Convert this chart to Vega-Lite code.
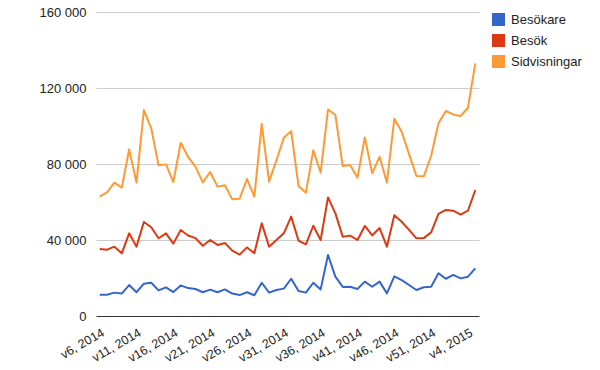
{
  "$schema": "https://vega.github.io/schema/vega-lite/v6.json",
  "width": 383,
  "height": 304,
  "autosize": {"type": "none"},
  "padding": {"left": 96, "top": 12, "right": 121, "bottom": 54},
  "background": "white",
  "config": {
    "view": {"stroke": null},
    "font": "Liberation Sans"
  },
  "data": {
    "values": [
      {"week": "v6, 2014", "serie": "Besökare", "value": 11200},
      {"week": "v7, 2014", "serie": "Besökare", "value": 11200},
      {"week": "v8, 2014", "serie": "Besökare", "value": 12300},
      {"week": "v9, 2014", "serie": "Besökare", "value": 11800},
      {"week": "v10, 2014", "serie": "Besökare", "value": 16300},
      {"week": "v11, 2014", "serie": "Besökare", "value": 12500},
      {"week": "v12, 2014", "serie": "Besökare", "value": 17000},
      {"week": "v13, 2014", "serie": "Besökare", "value": 17500},
      {"week": "v14, 2014", "serie": "Besökare", "value": 13500},
      {"week": "v15, 2014", "serie": "Besökare", "value": 15100},
      {"week": "v16, 2014", "serie": "Besökare", "value": 12600},
      {"week": "v17, 2014", "serie": "Besökare", "value": 16100},
      {"week": "v18, 2014", "serie": "Besökare", "value": 14700},
      {"week": "v19, 2014", "serie": "Besökare", "value": 14200},
      {"week": "v20, 2014", "serie": "Besökare", "value": 12500},
      {"week": "v21, 2014", "serie": "Besökare", "value": 13900},
      {"week": "v22, 2014", "serie": "Besökare", "value": 12500},
      {"week": "v23, 2014", "serie": "Besökare", "value": 14000},
      {"week": "v24, 2014", "serie": "Besökare", "value": 11800},
      {"week": "v25, 2014", "serie": "Besökare", "value": 11000},
      {"week": "v26, 2014", "serie": "Besökare", "value": 12500},
      {"week": "v27, 2014", "serie": "Besökare", "value": 10900},
      {"week": "v28, 2014", "serie": "Besökare", "value": 17500},
      {"week": "v29, 2014", "serie": "Besökare", "value": 12300},
      {"week": "v30, 2014", "serie": "Besökare", "value": 13700},
      {"week": "v31, 2014", "serie": "Besökare", "value": 14400},
      {"week": "v32, 2014", "serie": "Besökare", "value": 19600},
      {"week": "v33, 2014", "serie": "Besökare", "value": 13200},
      {"week": "v34, 2014", "serie": "Besökare", "value": 12300},
      {"week": "v35, 2014", "serie": "Besökare", "value": 17500},
      {"week": "v36, 2014", "serie": "Besökare", "value": 14000},
      {"week": "v37, 2014", "serie": "Besökare", "value": 32100},
      {"week": "v38, 2014", "serie": "Besökare", "value": 20700},
      {"week": "v39, 2014", "serie": "Besökare", "value": 15300},
      {"week": "v40, 2014", "serie": "Besökare", "value": 15400},
      {"week": "v41, 2014", "serie": "Besökare", "value": 14200},
      {"week": "v42, 2014", "serie": "Besökare", "value": 18100},
      {"week": "v43, 2014", "serie": "Besökare", "value": 15400},
      {"week": "v44, 2014", "serie": "Besökare", "value": 18100},
      {"week": "v45, 2014", "serie": "Besökare", "value": 11900},
      {"week": "v46, 2014", "serie": "Besökare", "value": 20900},
      {"week": "v47, 2014", "serie": "Besökare", "value": 18900},
      {"week": "v48, 2014", "serie": "Besökare", "value": 16300},
      {"week": "v49, 2014", "serie": "Besökare", "value": 13700},
      {"week": "v50, 2014", "serie": "Besökare", "value": 15100},
      {"week": "v51, 2014", "serie": "Besökare", "value": 15400},
      {"week": "v52, 2014", "serie": "Besökare", "value": 22500},
      {"week": "v1, 2015", "serie": "Besökare", "value": 19600},
      {"week": "v2, 2015", "serie": "Besökare", "value": 21600},
      {"week": "v3, 2015", "serie": "Besökare", "value": 19800},
      {"week": "v4, 2015", "serie": "Besökare", "value": 20700},
      {"week": "v5, 2015", "serie": "Besökare", "value": 25100},
      {"week": "v6, 2014", "serie": "Besök", "value": 35300},
      {"week": "v7, 2014", "serie": "Besök", "value": 34900},
      {"week": "v8, 2014", "serie": "Besök", "value": 36500},
      {"week": "v9, 2014", "serie": "Besök", "value": 33000},
      {"week": "v10, 2014", "serie": "Besök", "value": 43500},
      {"week": "v11, 2014", "serie": "Besök", "value": 36500},
      {"week": "v12, 2014", "serie": "Besök", "value": 49500},
      {"week": "v13, 2014", "serie": "Besök", "value": 46700},
      {"week": "v14, 2014", "serie": "Besök", "value": 40900},
      {"week": "v15, 2014", "serie": "Besök", "value": 43500},
      {"week": "v16, 2014", "serie": "Besök", "value": 38100},
      {"week": "v17, 2014", "serie": "Besök", "value": 45300},
      {"week": "v18, 2014", "serie": "Besök", "value": 42400},
      {"week": "v19, 2014", "serie": "Besök", "value": 41000},
      {"week": "v20, 2014", "serie": "Besök", "value": 37000},
      {"week": "v21, 2014", "serie": "Besök", "value": 40000},
      {"week": "v22, 2014", "serie": "Besök", "value": 37400},
      {"week": "v23, 2014", "serie": "Besök", "value": 38400},
      {"week": "v24, 2014", "serie": "Besök", "value": 34400},
      {"week": "v25, 2014", "serie": "Besök", "value": 32300},
      {"week": "v26, 2014", "serie": "Besök", "value": 36100},
      {"week": "v27, 2014", "serie": "Besök", "value": 33000},
      {"week": "v28, 2014", "serie": "Besök", "value": 48800},
      {"week": "v29, 2014", "serie": "Besök", "value": 36500},
      {"week": "v30, 2014", "serie": "Besök", "value": 40000},
      {"week": "v31, 2014", "serie": "Besök", "value": 43500},
      {"week": "v32, 2014", "serie": "Besök", "value": 52300},
      {"week": "v33, 2014", "serie": "Besök", "value": 39600},
      {"week": "v34, 2014", "serie": "Besök", "value": 37700},
      {"week": "v35, 2014", "serie": "Besök", "value": 47500},
      {"week": "v36, 2014", "serie": "Besök", "value": 40000},
      {"week": "v37, 2014", "serie": "Besök", "value": 62400},
      {"week": "v38, 2014", "serie": "Besök", "value": 54000},
      {"week": "v39, 2014", "serie": "Besök", "value": 41700},
      {"week": "v40, 2014", "serie": "Besök", "value": 42300},
      {"week": "v41, 2014", "serie": "Besök", "value": 40000},
      {"week": "v42, 2014", "serie": "Besök", "value": 47400},
      {"week": "v43, 2014", "serie": "Besök", "value": 42400},
      {"week": "v44, 2014", "serie": "Besök", "value": 46300},
      {"week": "v45, 2014", "serie": "Besök", "value": 36500},
      {"week": "v46, 2014", "serie": "Besök", "value": 53000},
      {"week": "v47, 2014", "serie": "Besök", "value": 49600},
      {"week": "v48, 2014", "serie": "Besök", "value": 45300},
      {"week": "v49, 2014", "serie": "Besök", "value": 40900},
      {"week": "v50, 2014", "serie": "Besök", "value": 41000},
      {"week": "v51, 2014", "serie": "Besök", "value": 44000},
      {"week": "v52, 2014", "serie": "Besök", "value": 53700},
      {"week": "v1, 2015", "serie": "Besök", "value": 55800},
      {"week": "v2, 2015", "serie": "Besök", "value": 55400},
      {"week": "v3, 2015", "serie": "Besök", "value": 53300},
      {"week": "v4, 2015", "serie": "Besök", "value": 55400},
      {"week": "v5, 2015", "serie": "Besök", "value": 66300},
      {"week": "v6, 2014", "serie": "Sidvisningar", "value": 62800},
      {"week": "v7, 2014", "serie": "Sidvisningar", "value": 65100},
      {"week": "v8, 2014", "serie": "Sidvisningar", "value": 70200},
      {"week": "v9, 2014", "serie": "Sidvisningar", "value": 67500},
      {"week": "v10, 2014", "serie": "Sidvisningar", "value": 87700},
      {"week": "v11, 2014", "serie": "Sidvisningar", "value": 70200},
      {"week": "v12, 2014", "serie": "Sidvisningar", "value": 108400},
      {"week": "v13, 2014", "serie": "Sidvisningar", "value": 98800},
      {"week": "v14, 2014", "serie": "Sidvisningar", "value": 79300},
      {"week": "v15, 2014", "serie": "Sidvisningar", "value": 79800},
      {"week": "v16, 2014", "serie": "Sidvisningar", "value": 70500},
      {"week": "v17, 2014", "serie": "Sidvisningar", "value": 91200},
      {"week": "v18, 2014", "serie": "Sidvisningar", "value": 83800},
      {"week": "v19, 2014", "serie": "Sidvisningar", "value": 78600},
      {"week": "v20, 2014", "serie": "Sidvisningar", "value": 70300},
      {"week": "v21, 2014", "serie": "Sidvisningar", "value": 75800},
      {"week": "v22, 2014", "serie": "Sidvisningar", "value": 68100},
      {"week": "v23, 2014", "serie": "Sidvisningar", "value": 68800},
      {"week": "v24, 2014", "serie": "Sidvisningar", "value": 61400},
      {"week": "v25, 2014", "serie": "Sidvisningar", "value": 61700},
      {"week": "v26, 2014", "serie": "Sidvisningar", "value": 72100},
      {"week": "v27, 2014", "serie": "Sidvisningar", "value": 62800},
      {"week": "v28, 2014", "serie": "Sidvisningar", "value": 101000},
      {"week": "v29, 2014", "serie": "Sidvisningar", "value": 70700},
      {"week": "v30, 2014", "serie": "Sidvisningar", "value": 82000},
      {"week": "v31, 2014", "serie": "Sidvisningar", "value": 93800},
      {"week": "v32, 2014", "serie": "Sidvisningar", "value": 97300},
      {"week": "v33, 2014", "serie": "Sidvisningar", "value": 68400},
      {"week": "v34, 2014", "serie": "Sidvisningar", "value": 64900},
      {"week": "v35, 2014", "serie": "Sidvisningar", "value": 87200},
      {"week": "v36, 2014", "serie": "Sidvisningar", "value": 75400},
      {"week": "v37, 2014", "serie": "Sidvisningar", "value": 108700},
      {"week": "v38, 2014", "serie": "Sidvisningar", "value": 105800},
      {"week": "v39, 2014", "serie": "Sidvisningar", "value": 78900},
      {"week": "v40, 2014", "serie": "Sidvisningar", "value": 79500},
      {"week": "v41, 2014", "serie": "Sidvisningar", "value": 72800},
      {"week": "v42, 2014", "serie": "Sidvisningar", "value": 94000},
      {"week": "v43, 2014", "serie": "Sidvisningar", "value": 75100},
      {"week": "v44, 2014", "serie": "Sidvisningar", "value": 83800},
      {"week": "v45, 2014", "serie": "Sidvisningar", "value": 70200},
      {"week": "v46, 2014", "serie": "Sidvisningar", "value": 103800},
      {"week": "v47, 2014", "serie": "Sidvisningar", "value": 97000},
      {"week": "v48, 2014", "serie": "Sidvisningar", "value": 85200},
      {"week": "v49, 2014", "serie": "Sidvisningar", "value": 73700},
      {"week": "v50, 2014", "serie": "Sidvisningar", "value": 73500},
      {"week": "v51, 2014", "serie": "Sidvisningar", "value": 84200},
      {"week": "v52, 2014", "serie": "Sidvisningar", "value": 101400},
      {"week": "v1, 2015", "serie": "Sidvisningar", "value": 107900},
      {"week": "v2, 2015", "serie": "Sidvisningar", "value": 106100},
      {"week": "v3, 2015", "serie": "Sidvisningar", "value": 105200},
      {"week": "v4, 2015", "serie": "Sidvisningar", "value": 109600},
      {"week": "v5, 2015", "serie": "Sidvisningar", "value": 133000}
    ]
  },
  "mark": {"type": "line", "strokeWidth": 2, "strokeJoin": "round"},
  "encoding": {
    "x": {
      "field": "week",
      "type": "ordinal",
      "sort": null,
      "scale": {"type": "point", "padding": 0.5},
      "axis": {
        "title": null,
        "values": ["v6, 2014", "v11, 2014", "v16, 2014", "v21, 2014", "v26, 2014", "v31, 2014", "v36, 2014", "v41, 2014", "v46, 2014", "v51, 2014", "v4, 2015"],
        "labelAngle": -30,
        "labelAlign": "right",
        "labelBaseline": "top",
        "labelPadding": 10,
        "labelFontSize": 12.5,
        "labelColor": "#222222",
        "ticks": false,
        "domain": true,
        "domainColor": "#333333",
        "domainWidth": 1,
        "grid": false
      }
    },
    "y": {
      "field": "value",
      "type": "quantitative",
      "scale": {"domain": [0, 160000], "nice": false},
      "axis": {
        "title": null,
        "values": [0, 40000, 80000, 120000, 160000],
        "labelExpr": "datum.value == 0 ? '0' : format(datum.value / 1000, 'd') + ' 000'",
        "labelFontSize": 13,
        "labelColor": "#222222",
        "labelPadding": 10,
        "ticks": false,
        "domain": false,
        "grid": true,
        "gridColor": "#cccccc",
        "gridWidth": 1
      }
    },
    "color": {
      "field": "serie",
      "type": "nominal",
      "scale": {
        "domain": ["Besökare", "Besök", "Sidvisningar"],
        "range": ["#3366cc", "#dc3912", "#ff9933"]
      },
      "legend": {
        "title": null,
        "orient": "none",
        "legendX": 396,
        "legendY": 1,
        "symbolType": "square",
        "symbolSize": 169,
        "symbolStrokeWidth": 0,
        "symbolOpacity": 1,
        "labelFontSize": 13,
        "labelColor": "#222222",
        "rowPadding": 7,
        "labelOffset": 6,
        "encode": {
          "symbols": {
            "update": {
              "fill": {"scale": "color", "field": "value"},
              "fillOpacity": {"value": 1},
              "strokeWidth": {"value": 0}
            }
          }
        }
      }
    }
  }
}
